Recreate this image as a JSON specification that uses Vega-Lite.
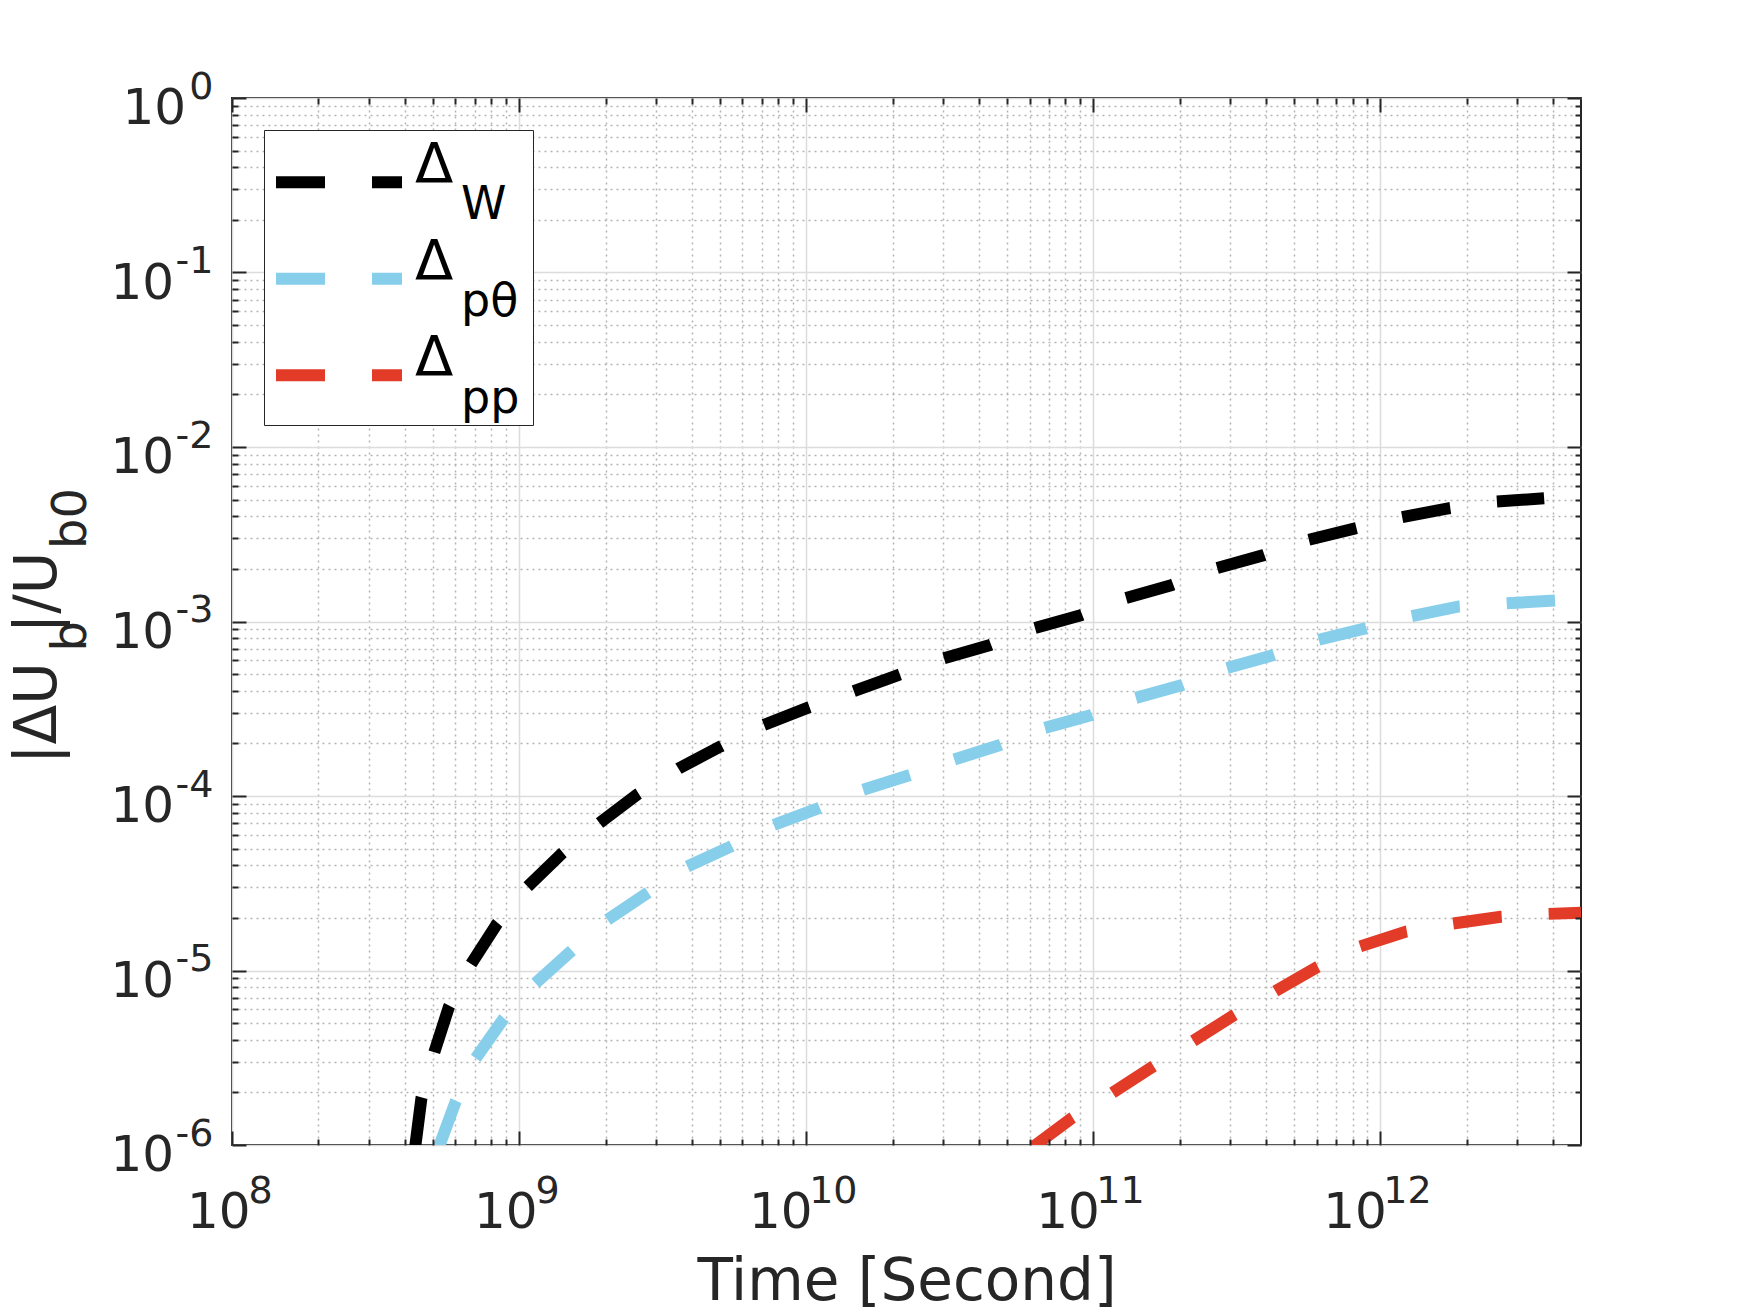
{
  "$schema": "https://vega.github.io/schema/vega-lite/v6.json",
  "width": 1349,
  "height": 1047,
  "autosize": "none",
  "padding": {"left": 232, "top": 98, "right": 167, "bottom": 167},
  "background": "white",
  "datasets": {
    "names": [
      {"s": "W", "tex": "Δ_W"},
      {"s": "pθ", "tex": "Δ_pθ"},
      {"s": "pp", "tex": "Δ_pp"}
    ],
    "curves": [
      {"t": 4.35e8, "v": 9.86e-7, "s": "W"},
      {"t": 4.57e8, "v": 1.86e-6, "s": "W"},
      {"t": 5.06e8, "v": 3.38e-6, "s": "W"},
      {"t": 5.70e8, "v": 6.21e-6, "s": "W"},
      {"t": 6.78e8, "v": 1.08e-5, "s": "W"},
      {"t": 8.39e8, "v": 1.86e-5, "s": "W"},
      {"t": 1.07e9, "v": 3.02e-5, "s": "W"},
      {"t": 1.41e9, "v": 4.69e-5, "s": "W"},
      {"t": 1.90e9, "v": 6.97e-5, "s": "W"},
      {"t": 2.58e9, "v": 1.02e-4, "s": "W"},
      {"t": 3.60e9, "v": 1.44e-4, "s": "W"},
      {"t": 5.02e9, "v": 1.92e-4, "s": "W"},
      {"t": 7.10e9, "v": 2.55e-4, "s": "W"},
      {"t": 1.02e10, "v": 3.22e-4, "s": "W"},
      {"t": 1.81e10, "v": 4.52e-4, "s": "W"},
      {"t": 2.09e10, "v": 4.93e-4, "s": "W"},
      {"t": 3.01e10, "v": 6.15e-4, "s": "W"},
      {"t": 4.37e10, "v": 7.33e-4, "s": "W"},
      {"t": 6.21e10, "v": 9.14e-4, "s": "W"},
      {"t": 9.10e10, "v": 1.09e-3, "s": "W"},
      {"t": 1.29e11, "v": 1.36e-3, "s": "W"},
      {"t": 1.88e11, "v": 1.62e-3, "s": "W"},
      {"t": 2.69e11, "v": 2.02e-3, "s": "W"},
      {"t": 3.92e11, "v": 2.40e-3, "s": "W"},
      {"t": 5.58e11, "v": 2.93e-3, "s": "W"},
      {"t": 8.18e11, "v": 3.42e-3, "s": "W"},
      {"t": 1.18e12, "v": 3.95e-3, "s": "W"},
      {"t": 1.74e12, "v": 4.46e-3, "s": "W"},
      {"t": 2.52e12, "v": 4.86e-3, "s": "W"},
      {"t": 3.72e12, "v": 5.08e-3, "s": "W"},
      {"t": 5.26e8, "v": 9.77e-7, "s": "pθ"},
      {"t": 6.01e8, "v": 1.77e-6, "s": "pθ"},
      {"t": 7.06e8, "v": 3.14e-6, "s": "pθ"},
      {"t": 8.85e8, "v": 5.32e-6, "s": "pθ"},
      {"t": 1.14e9, "v": 8.45e-6, "s": "pθ"},
      {"t": 1.51e9, "v": 1.28e-5, "s": "pθ"},
      {"t": 2.03e9, "v": 1.95e-5, "s": "pθ"},
      {"t": 2.79e9, "v": 2.77e-5, "s": "pθ"},
      {"t": 3.85e9, "v": 3.94e-5, "s": "pθ"},
      {"t": 5.45e9, "v": 5.13e-5, "s": "pθ"},
      {"t": 7.69e9, "v": 6.82e-5, "s": "pθ"},
      {"t": 1.10e10, "v": 8.49e-5, "s": "pθ"},
      {"t": 1.56e10, "v": 1.08e-4, "s": "pθ"},
      {"t": 2.30e10, "v": 1.32e-4, "s": "pθ"},
      {"t": 3.25e10, "v": 1.61e-4, "s": "pθ"},
      {"t": 4.73e10, "v": 1.96e-4, "s": "pθ"},
      {"t": 6.68e10, "v": 2.44e-4, "s": "pθ"},
      {"t": 9.86e10, "v": 2.91e-4, "s": "pθ"},
      {"t": 1.39e11, "v": 3.63e-4, "s": "pθ"},
      {"t": 2.04e11, "v": 4.33e-4, "s": "pθ"},
      {"t": 2.90e11, "v": 5.40e-4, "s": "pθ"},
      {"t": 4.25e11, "v": 6.43e-4, "s": "pθ"},
      {"t": 6.05e11, "v": 7.83e-4, "s": "pθ"},
      {"t": 8.87e11, "v": 9.14e-4, "s": "pθ"},
      {"t": 1.28e12, "v": 1.07e-3, "s": "pθ"},
      {"t": 1.88e12, "v": 1.22e-3, "s": "pθ"},
      {"t": 2.74e12, "v": 1.27e-3, "s": "pθ"},
      {"t": 4.06e12, "v": 1.32e-3, "s": "pθ"},
      {"t": 6.18e10, "v": 9.77e-7, "s": "pp"},
      {"t": 8.39e10, "v": 1.42e-6, "s": "pp"},
      {"t": 1.16e11, "v": 1.98e-6, "s": "pp"},
      {"t": 1.61e11, "v": 2.81e-6, "s": "pp"},
      {"t": 2.21e11, "v": 3.91e-6, "s": "pp"},
      {"t": 3.10e11, "v": 5.56e-6, "s": "pp"},
      {"t": 4.28e11, "v": 7.57e-6, "s": "pp"},
      {"t": 6.05e11, "v": 1.05e-5, "s": "pp"},
      {"t": 8.45e11, "v": 1.37e-5, "s": "pp"},
      {"t": 1.23e12, "v": 1.67e-5, "s": "pp"},
      {"t": 1.79e12, "v": 1.86e-5, "s": "pp"},
      {"t": 2.63e12, "v": 2.03e-5, "s": "pp"},
      {"t": 3.82e12, "v": 2.11e-5, "s": "pp"},
      {"t": 5.0e12, "v": 2.14e-5, "s": "pp"}
    ]
  },
  "data": {"name": "curves"},
  "transform": [
    {"lookup": "s", "from": {"data": {"name": "names"}, "key": "s", "fields": ["tex"]}}
  ],
  "layer": [
    {
      "mark": {"type": "point", "opacity": 0},
      "encoding": {
        "x": {
          "field": "t", "type": "quantitative",
          "scale": {"type": "log", "domain": [1e8, 5e12], "nice": false},
          "axis": {
            "orient": "bottom",
            "values": [2e8,3e8,4e8,5e8,6e8,7e8,8e8,9e8,2e9,3e9,4e9,5e9,6e9,7e9,8e9,9e9,2e10,3e10,4e10,5e10,6e10,7e10,8e10,9e10,2e11,3e11,4e11,5e11,6e11,7e11,8e11,9e11,2e12,3e12,4e12],
            "grid": true, "gridColor": "#b4b4b4", "gridDash": [2, 4], "gridWidth": 1.5,
            "ticks": false, "labels": false, "title": null
          }
        },
        "y": {
          "field": "v", "type": "quantitative",
          "scale": {"type": "log", "domain": [1e-6, 1], "nice": false},
          "axis": {
            "orient": "left",
            "values": [2e-6,3e-6,4e-6,5e-6,6e-6,7e-6,8e-6,9e-6,2e-5,3e-5,4e-5,5e-5,6e-5,7e-5,8e-5,9e-5,2e-4,3e-4,4e-4,5e-4,6e-4,7e-4,8e-4,9e-4,2e-3,3e-3,4e-3,5e-3,6e-3,7e-3,8e-3,9e-3,2e-2,3e-2,4e-2,5e-2,6e-2,7e-2,8e-2,9e-2,0.2,0.3,0.4,0.5,0.6,0.7,0.8,0.9],
            "grid": true, "gridColor": "#b4b4b4", "gridDash": [2, 4], "gridWidth": 1.5,
            "ticks": false, "labels": false, "title": null
          }
        }
      }
    },
    {
      "mark": {"type": "line", "strokeWidth": 12, "strokeDash": [49, 47], "clip": true},
      "encoding": {
        "x": {
          "field": "t", "type": "quantitative",
          "scale": {"type": "log", "domain": [1e8, 5e12], "nice": false},
          "axis": {
            "orient": "bottom",
            "values": [1e8, 1e9, 1e10, 1e11, 1e12],
            "grid": true, "gridColor": "#dcdcdc", "gridWidth": 1.5,
            "ticks": false, "tickSize": 0,
            "labelExpr": "'10'",
            "labelAlign": "right",
            "labelBaseline": "alphabetic",
            "labelFontSize": 50,
            "labelPadding": 82,
            "labelOffset": {"condition": {"test": "datum.value > 5e9", "value": 6}, "value": 18},
            "title": "Time [Second]",
            "titleFontSize": 58,
            "titleBaseline": "alphabetic",
            "titleY": 154
          }
        },
        "y": {
          "field": "v", "type": "quantitative",
          "scale": {"type": "log", "domain": [1e-6, 1], "nice": false},
          "axis": {
            "orient": "left",
            "values": [1e-6, 1e-5, 1e-4, 1e-3, 1e-2, 0.1, 1],
            "grid": true, "gridColor": "#dcdcdc", "gridWidth": 1.5,
            "ticks": false, "tickSize": 0,
            "labelExpr": "'10'",
            "labelAlign": "right",
            "labelBaseline": "alphabetic",
            "labelFontSize": 50,
            "labelOffset": 25.5,
            "labelPadding": {"condition": {"test": "datum.value > 0.5", "value": 46.5}, "value": 58.5},
            "title": "|ΔU\u2002|/U",
            "titleFontSize": 58,
            "titleAngle": -90,
            "titleAlign": "left",
            "titleBaseline": "alphabetic",
            "titleX": -177,
            "titleY": 665.5
          }
        },
        "color": {
          "field": "s", "type": "nominal",
          "scale": {"domain": ["W", "pθ", "pp"], "range": ["#000000", "#87ceeb", "#e23b28"]},
          "legend": {
            "orient": "none", "legendX": 32, "legendY": 32, "zindex": 0,
            "symbolType": "M-2,0H2", "symbolSize": 3969, "symbolStrokeWidth": 12, "symbolDash": [49, 47],
            "symbolOffset": 22.7,
            "labelExpr": "'Δ'", "labelFontSize": 56, "labelOffset": 38.5, "labelBaseline": "alphabetic",
            "rowPadding": 26.5, "padding": 14.8,
            "title": "MMMMMMMMMMMMMMMMMMMMMMMM", "titleOrient": "bottom", "titleFontSize": 10, "titlePadding": 0,
            "titleOpacity": 0, "titleLimit": 0,
            "fillColor": "white", "strokeColor": "#262626"
          }
        },
        "opacity": {
          "field": "tex", "type": "ordinal",
          "scale": {"domain": ["Δ_W", "Δ_pθ", "Δ_pp"], "range": [1, 1, 1]},
          "legend": {
            "orient": "none", "legendX": 183, "legendY": 98.3, "title": null, "zindex": 1,
            "symbolOpacity": 0, "symbolSize": 1, "symbolStrokeWidth": 0,
            "labelExpr": "slice(datum.label, 2)",
            "labelFontSize": 46, "labelOffset": 0, "labelBaseline": "alphabetic",
            "rowPadding": 51, "padding": 0
          }
        }
      }
    },
    {
      "mark": {"type": "point", "opacity": 0},
      "encoding": {
        "x": {
          "field": "t", "type": "quantitative",
          "scale": {"type": "log", "domain": [1e8, 5e12], "nice": false},
          "axis": {
            "orient": "bottom",
            "values": [1e8, 1e9, 1e10, 1e11, 1e12],
            "grid": false, "ticks": false, "tickSize": 0,
            "labelExpr": "'' + round(log(datum.value)/LN10)",
            "labelAlign": "left", "labelBaseline": "alphabetic",
            "labelFontSize": 38, "labelPadding": 57,
            "labelOffset": {"condition": {"test": "datum.value > 5e9", "value": 2.5}, "value": 16},
            "title": null
          }
        },
        "y": {
          "field": "v", "type": "quantitative",
          "scale": {"type": "log", "domain": [1e-6, 1], "nice": false},
          "axis": {
            "orient": "left",
            "values": [1e-6, 1e-5, 1e-4, 1e-3, 1e-2, 0.1, 1],
            "grid": false, "ticks": false, "tickSize": 0,
            "labelExpr": "'' + round(log(datum.value)/LN10)",
            "labelAlign": "right", "labelBaseline": "alphabetic",
            "labelFontSize": 38, "labelPadding": 19,
            "title": "b\u2003\u2002b0",
            "titleFontSize": 48,
            "titleAngle": -90,
            "titleAlign": "left",
            "titleBaseline": "alphabetic",
            "titleX": -147,
            "titleY": 553
          }
        }
      }
    },
    {
      "mark": {"type": "point", "opacity": 0},
      "encoding": {
        "x": {
          "field": "t", "type": "quantitative",
          "scale": {"type": "log", "domain": [1e8, 5e12], "nice": false},
          "axis": {
            "orient": "top", "offset": -1047, "zindex": 1,
            "values": [1e8,2e8,3e8,4e8,5e8,6e8,7e8,8e8,9e8,1e9,2e9,3e9,4e9,5e9,6e9,7e9,8e9,9e9,1e10,2e10,3e10,4e10,5e10,6e10,7e10,8e10,9e10,1e11,2e11,3e11,4e11,5e11,6e11,7e11,8e11,9e11,1e12,2e12,3e12,4e12],
            "grid": false, "labels": false, "title": null,
            "ticks": true, "tickColor": "#262626", "tickWidth": 2,
            "tickSize": {"condition": {"test": "abs(log(datum.value)/LN10 - round(log(datum.value)/LN10)) < 0.001", "value": 14}, "value": 6}
          }
        },
        "y": {
          "field": "v", "type": "quantitative",
          "scale": {"type": "log", "domain": [1e-6, 1], "nice": false},
          "axis": {
            "orient": "right", "offset": -1349, "zindex": 1,
            "values": [1e-6,2e-6,3e-6,4e-6,5e-6,6e-6,7e-6,8e-6,9e-6,1e-5,2e-5,3e-5,4e-5,5e-5,6e-5,7e-5,8e-5,9e-5,1e-4,2e-4,3e-4,4e-4,5e-4,6e-4,7e-4,8e-4,9e-4,1e-3,2e-3,3e-3,4e-3,5e-3,6e-3,7e-3,8e-3,9e-3,1e-2,2e-2,3e-2,4e-2,5e-2,6e-2,7e-2,8e-2,9e-2,0.1,0.2,0.3,0.4,0.5,0.6,0.7,0.8,0.9,1],
            "grid": false, "labels": false, "title": null,
            "ticks": true, "tickColor": "#262626", "tickWidth": 2,
            "tickSize": {"condition": {"test": "abs(log(datum.value)/LN10 - round(log(datum.value)/LN10)) < 0.001", "value": 14}, "value": 6}
          }
        }
      }
    },
    {
      "mark": {"type": "point", "opacity": 0},
      "encoding": {
        "x": {
          "field": "t", "type": "quantitative",
          "scale": {"type": "log", "domain": [1e8, 5e12], "nice": false},
          "axis": {
            "orient": "bottom", "offset": -1047, "zindex": 1,
            "values": [1e8,2e8,3e8,4e8,5e8,6e8,7e8,8e8,9e8,1e9,2e9,3e9,4e9,5e9,6e9,7e9,8e9,9e9,1e10,2e10,3e10,4e10,5e10,6e10,7e10,8e10,9e10,1e11,2e11,3e11,4e11,5e11,6e11,7e11,8e11,9e11,1e12,2e12,3e12,4e12],
            "grid": false, "labels": false, "title": null,
            "ticks": true, "tickColor": "#262626", "tickWidth": 2,
            "tickSize": {"condition": {"test": "abs(log(datum.value)/LN10 - round(log(datum.value)/LN10)) < 0.001", "value": 14}, "value": 6}
          }
        },
        "y": {
          "field": "v", "type": "quantitative",
          "scale": {"type": "log", "domain": [1e-6, 1], "nice": false},
          "axis": {
            "orient": "left", "offset": -1349, "zindex": 1,
            "values": [1e-6,2e-6,3e-6,4e-6,5e-6,6e-6,7e-6,8e-6,9e-6,1e-5,2e-5,3e-5,4e-5,5e-5,6e-5,7e-5,8e-5,9e-5,1e-4,2e-4,3e-4,4e-4,5e-4,6e-4,7e-4,8e-4,9e-4,1e-3,2e-3,3e-3,4e-3,5e-3,6e-3,7e-3,8e-3,9e-3,1e-2,2e-2,3e-2,4e-2,5e-2,6e-2,7e-2,8e-2,9e-2,0.1,0.2,0.3,0.4,0.5,0.6,0.7,0.8,0.9,1],
            "grid": false, "labels": false, "title": null,
            "ticks": true, "tickColor": "#262626", "tickWidth": 2,
            "tickSize": {"condition": {"test": "abs(log(datum.value)/LN10 - round(log(datum.value)/LN10)) < 0.001", "value": 14}, "value": 6}
          }
        }
      }
    }
  ],
  "resolve": {"axis": {"x": "independent", "y": "independent"}},
  "config": {
    "view": {"stroke": "#262626", "strokeWidth": 2},
    "axis": {
      "labelFont": "DejaVu Sans", "titleFont": "DejaVu Sans",
      "labelColor": "#262626", "titleColor": "#262626", "titleFontWeight": "normal",
      "domain": false, "labelFlush": false, "labelOverlap": false, "labelBound": false
    },
    "legend": {"labelFont": "DejaVu Sans", "titleFont": "DejaVu Sans", "labelColor": "#000000", "labelLimit": 0}
  }
}
